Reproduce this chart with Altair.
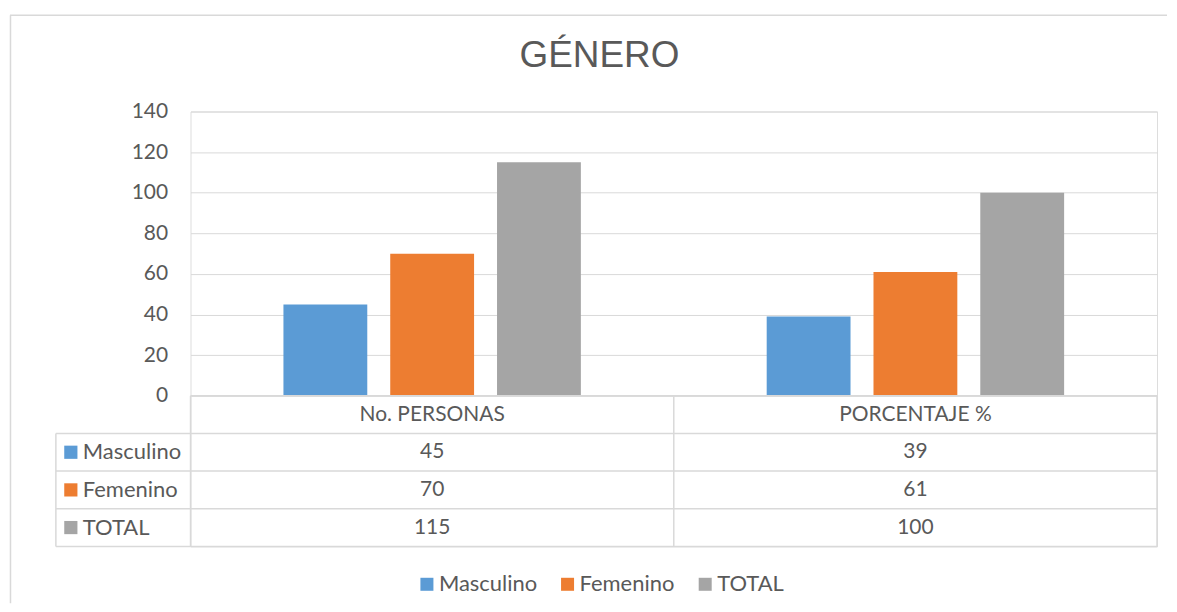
import altair as alt
import pandas as pd

categories = ["No. PERSONAS", "PORCENTAJE %"]
series = ["Masculino", "Femenino", "TOTAL"]
masculino = [45, 39]
femenino = [70, 61]
total = [115, 100]
colors = ["#5B9BD5", "#ED7D31", "#A5A5A5"]
y_ticks = [0, 20, 40, 60, 80, 100, 120, 140]
title_text = "GÉNERO"
header_key = "hdr"

values_by_series = {"Masculino": masculino, "Femenino": femenino, "TOTAL": total}

rows = []
for s in series:
    for c, v in zip(categories, values_by_series[s]):
        rows.append({"series": s, "category": c, "value": v})
bars_df = pd.DataFrame(rows)

tbl_rows = [{"row": header_key, "category": c, "label": c} for c in categories]
tbl_rows += [{"row": r["series"], "category": r["category"], "label": str(r["value"])} for r in rows]
tbl_df = pd.DataFrame(tbl_rows)
row_df = pd.DataFrame({"series": series})
cat_df = pd.DataFrame({"category": categories})
one = pd.DataFrame({"k": [0]})

W = 969
H_BAR = 285
H_TBL = 151
ROW_H = H_TBL / 4
LEFT_COL = 135
GRID = "#d9d9d9"
TXT = "#595959"
FS = 22
FONT = "Lato"

color_scale = alt.Scale(domain=series, range=colors)
x_scale = alt.Scale(type="band", domain=categories, paddingInner=0, paddingOuter=0)
row_scale = alt.Scale(type="band", domain=[header_key] + series, paddingInner=0, paddingOuter=0)

leg = alt.Legend(
    title=None, orient="none", legendX=226, legendY=463, direction="horizontal",
    symbolType="square", symbolSize=170, symbolStrokeWidth=0, labelFontSize=FS,
    labelColor=TXT, labelFont=FONT, columnPadding=19, labelOffset=1, padding=0,
)

bars = alt.Chart(bars_df).mark_bar().encode(
    x=alt.X("category:N", scale=x_scale, axis=None),
    xOffset=alt.XOffset("series:N", scale=alt.Scale(domain=series, paddingInner=0.215, paddingOuter=0.87)),
    y=alt.Y("value:Q", scale=alt.Scale(domain=[0, 140]),
            axis=alt.Axis(values=y_ticks, title=None, domain=False, ticks=False, tickSize=0,
                          labelPadding=23, labelFontSize=21, labelColor=TXT, labelFont=FONT,
                          gridColor=GRID, gridWidth=1)),
    color=alt.Color("series:N", scale=color_scale, legend=leg),
)

bar_chart = bars.properties(
    width=W, height=H_BAR,
    title=alt.TitleParams(title_text, fontSize=37, color=TXT, fontWeight="normal",
                          font="Liberation Sans", dx=-74.5, offset=26, anchor="middle"),
)

# outer chart-area border (left and top edges), drawn relative to the table panel
border_left = alt.Chart(one).mark_rule(color=GRID, strokeWidth=1.5).encode(
    x=alt.value(-180.5), y=alt.value(-381.5), y2=alt.value(208))
border_top = alt.Chart(one).mark_rule(color=GRID, strokeWidth=1.5).encode(
    x=alt.value(-181), x2=alt.value(979), y=alt.value(-381.5))

cell_text = alt.Chart(tbl_df).mark_text(fontSize=21, color=TXT, font=FONT).encode(
    x=alt.X("category:N", scale=x_scale, axis=None),
    y=alt.Y("row:N", scale=row_scale, axis=None),
    text="label:N",
)
row_lines = alt.Chart(row_df).mark_rule(color=GRID, strokeWidth=1.5).encode(
    y=alt.Y("series:N", scale=row_scale, axis=None, bandPosition=0),
    x=alt.value(-LEFT_COL), x2=alt.value(W),
)
bottom_line = alt.Chart(one).mark_rule(color=GRID, strokeWidth=1.5).encode(
    y=alt.value(H_TBL), x=alt.value(-LEFT_COL), x2=alt.value(W))
top_line = alt.Chart(one).mark_rule(color=GRID, strokeWidth=1.5).encode(
    y=alt.value(0), x=alt.value(0), x2=alt.value(W))
col_lines = alt.Chart(cat_df).mark_rule(color=GRID, strokeWidth=1.5).encode(
    x=alt.X("category:N", scale=x_scale, axis=None, bandPosition=0),
    y=alt.value(0), y2=alt.value(H_TBL))
right_line = alt.Chart(one).mark_rule(color=GRID, strokeWidth=1.5).encode(
    x=alt.value(W), y=alt.value(0), y2=alt.value(H_TBL))
left_line = alt.Chart(one).mark_rule(color=GRID, strokeWidth=1.5).encode(
    x=alt.value(-LEFT_COL), y=alt.value(ROW_H), y2=alt.value(H_TBL))
row_labels = alt.Chart(row_df).mark_text(align="left", fontSize=FS, color=TXT, font=FONT).encode(
    x=alt.value(-108),
    y=alt.Y("series:N", scale=row_scale, axis=None),
    text="series:N",
)
row_squares = alt.Chart(row_df).mark_square(size=175, opacity=1, filled=True).encode(
    x=alt.value(-120),
    y=alt.Y("series:N", scale=row_scale, axis=None),
    color=alt.Color("series:N", scale=color_scale, legend=leg),
)

table = alt.layer(
    border_left, border_top,
    row_lines, bottom_line, top_line, col_lines, right_line, left_line,
    cell_text, row_labels, row_squares,
).properties(width=W, height=H_TBL)

chart = alt.vconcat(bar_chart, table, spacing=0, bounds="flush").resolve_scale(
    x="independent", y="independent", xOffset="independent", color="shared"
).properties(
    padding={"left": 0, "top": 5, "right": 0, "bottom": 0}
).configure_view(strokeWidth=0).configure(font=FONT)

chart.save("out.html", embed_options={"renderer": "svg", "actions": False})
